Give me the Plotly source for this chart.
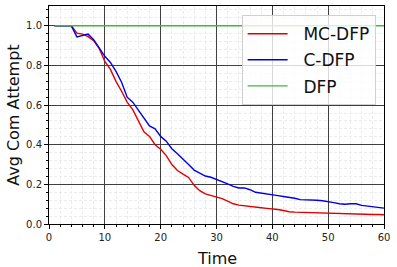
import plotly.graph_objects as go

time = list(range(1, 61))
mc_dfp = [1.0, 1.0, 1.0, 1.0, 0.963, 0.958, 0.945, 0.925, 0.885, 0.82,
          0.78, 0.72, 0.67, 0.615, 0.577, 0.52, 0.465, 0.442, 0.40, 0.377,
          0.345, 0.30, 0.27, 0.252, 0.235, 0.195, 0.168, 0.152, 0.145, 0.138,
          0.128, 0.115, 0.102, 0.095, 0.091, 0.088, 0.086, 0.082, 0.079, 0.077,
          0.073, 0.068, 0.062, 0.060, 0.059, 0.058, 0.057, 0.057, 0.056, 0.055,
          0.054, 0.051, 0.051, 0.050, 0.050, 0.049, 0.048, 0.048, 0.048, 0.047]
c_dfp = [1.0, 1.0, 1.0, 1.0, 0.944, 0.95, 0.958, 0.93, 0.89, 0.846,
         0.815, 0.77, 0.715, 0.64, 0.615, 0.575, 0.535, 0.495, 0.48, 0.442,
         0.418, 0.38, 0.355, 0.33, 0.30, 0.272, 0.255, 0.242, 0.236, 0.226,
         0.215, 0.203, 0.19, 0.182, 0.182, 0.173, 0.16, 0.155, 0.151, 0.147,
         0.143, 0.139, 0.136, 0.13, 0.123, 0.123, 0.123, 0.12, 0.117, 0.114,
         0.108, 0.102, 0.100, 0.102, 0.102, 0.094, 0.091, 0.088, 0.084, 0.080]
dfp = [1.0] * 60

series = [("MC-DFP", mc_dfp, "#e00000"), ("C-DFP", c_dfp, "#0000e6"), ("DFP", dfp, "#3cba3c")]

fig = go.Figure()
for name, vals, col in series:
    fig.add_trace(go.Scatter(x=time, y=vals, mode="lines", name="\u00a0\u00a0" + name,
                             line=dict(color=col, width=1.4), legendgroup=name))

axis_common = dict(
    showline=True, linecolor="black", linewidth=1, mirror=True,
    ticks="outside", ticklen=4, tickcolor="black", tickwidth=1,
    showgrid=True, gridcolor="#404040", gridwidth=0.8, zeroline=False,
    tickfont=dict(size=10, color="#222", family="DejaVu Sans"),
    automargin=False, layer="below traces",
)
minor_common = dict(ticks="outside", ticklen=2, tickcolor="black",
                    showgrid=True, gridcolor="#ececec", griddash="3px,2px", gridwidth=0.6)

fig.update_layout(
    width=397, height=267,
    margin=dict(l=49, r=13, t=6, b=43),
    paper_bgcolor="white", plot_bgcolor="white",
    font=dict(family="DejaVu Sans", color="#111"),
    xaxis=dict(range=[0, 60], tickvals=[0, 10, 20, 30, 40, 50, 60],
               minor=dict(dtick=2, tick0=0, **minor_common), **axis_common),
    yaxis=dict(range=[0, 1.1], tickvals=[0, 0.2, 0.4, 0.6, 0.8, 1.0], tickformat=".1f",
               minor=dict(dtick=0.04, tick0=0, **minor_common), **axis_common),
    legend=dict(x=0.575, y=0.958, xanchor="left", yanchor="top",
                bgcolor="rgba(255,255,255,0.8)", bordercolor="#d0d0d0", borderwidth=1,
                font=dict(size=17, color="#111"), tracegroupgap=1, traceorder="grouped",
                itemwidth=40),
    annotations=[
        dict(text="Time", xref="paper", yref="paper", x=0.5, y=-0.105, xanchor="center",
             yanchor="top", showarrow=False, font=dict(size=16, color="#111")),
        dict(text="Avg Com Attempt", xref="paper", yref="paper", x=-0.108, y=0.5,
             xanchor="center", yanchor="middle", textangle=-90, showarrow=False,
             font=dict(size=16, color="#111")),
    ],
)

fig.write_html("out.html", config={"displayModeBar": False},
               post_script="document.body.style.margin='0';")
